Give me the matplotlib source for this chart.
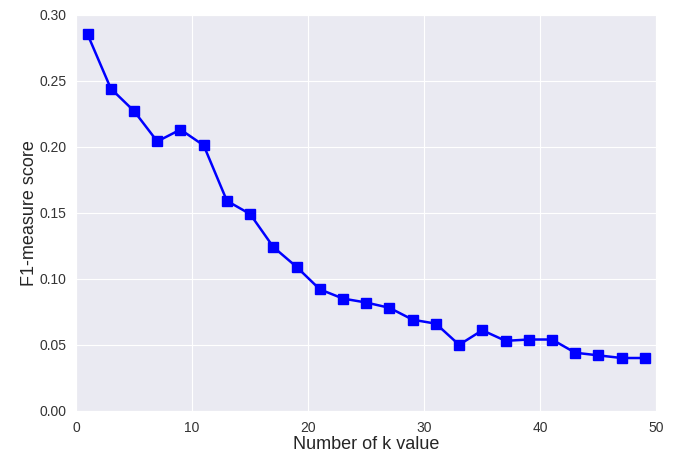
import matplotlib
matplotlib.use("Agg")
import matplotlib.pyplot as plt
import seaborn as sns

k_values = list(range(1, 50, 2))
f1_scores = [0.285, 0.244, 0.227, 0.204, 0.213, 0.201, 0.159, 0.149, 0.124, 0.109,
             0.092, 0.085, 0.082, 0.078, 0.069, 0.066, 0.050, 0.061, 0.053, 0.054,
             0.054, 0.044, 0.042, 0.040, 0.040]

sns.set_style("darkgrid")
plt.rcParams['font.family'] = ['Liberation Sans', 'DejaVu Sans']

fig, ax = plt.subplots(figsize=(6.91, 4.58), dpi=100)
ax.plot(k_values, f1_scores, color="blue", marker="s", markersize=7, linewidth=1.8)
ax.set_xlim(0, 50)
ax.set_ylim(0, 0.30)
ax.set_xlabel("Number of k value", fontsize=13, labelpad=1)
ax.set_ylabel("F1-measure score", fontsize=13, labelpad=1)
ax.tick_params(labelsize=10, colors="#333333")
fig.subplots_adjust(left=0.11, right=0.95, top=0.968, bottom=0.103)
fig.savefig("out.png", dpi=100)
